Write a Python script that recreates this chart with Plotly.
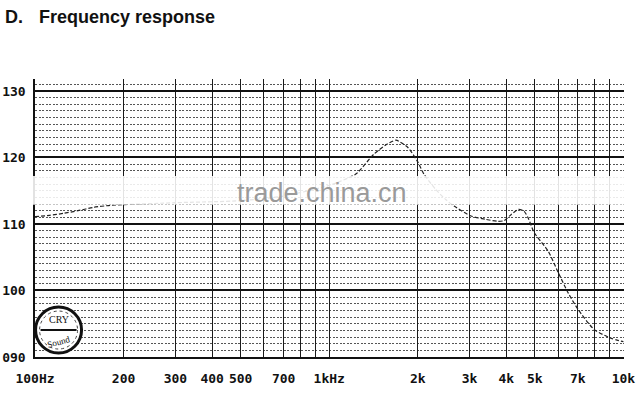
import plotly.graph_objects as go

# ---- data ----
freq_hz = [100, 112, 125, 140, 158, 180, 200, 300, 500, 700, 1000, 1231, 1418, 1560,
           1686, 1851, 2002, 2099, 2300, 2500, 2657, 3034, 3400, 3750, 3932, 4150,
           4406, 4600, 4746, 4975, 5553, 6004, 6496, 7025, 7965, 9100, 10000]
spl_db = [111.1, 111.3, 111.6, 112.0, 112.5, 112.8, 112.9, 113.2, 113.5, 114.2, 115.8,
          117.5, 120.5, 121.9, 122.6, 121.5, 119.3, 117.5, 115.2, 113.6, 112.7, 111.2,
          110.7, 110.4, 110.5, 111.4, 112.2, 111.9, 110.9, 108.7, 105.9, 102.7, 99.6,
          97.1, 94.1, 92.8, 92.3]

x_tickvals = [100, 200, 300, 400, 500, 600, 700, 800, 900, 1000,
              2000, 3000, 4000, 5000, 6000, 7000, 8000, 9000, 10000]
x_ticktext = ["100Hz", "200", "300", "400", "500", "", "700", "", "", "1kHz",
              "2k", "3k", "4k", "5k", "", "7k", "", "", "10k"]
y_tickvals = [90, 100, 110, 120, 130]
y_ticktext = ["090", "100", "110", "120", "130"]

tick_font = dict(family="DejaVu Sans Mono", size=13, color="#111", weight="bold")

fig = go.Figure()
fig.add_trace(go.Scatter(
    x=freq_hz, y=spl_db, mode="lines",
    line=dict(color="#222", width=1.2, dash="4px,2px", shape="spline", smoothing=0.6),
    hoverinfo="skip", showlegend=False,
))

fig.update_layout(
    width=644, height=402,
    margin=dict(l=35, r=20, t=79, b=45, autoexpand=False),
    paper_bgcolor="white", plot_bgcolor="white",
    showlegend=False,
    xaxis=dict(
        type="log", range=[2, 4.002], automargin=False,
        tickmode="array", tickvals=x_tickvals, ticktext=x_ticktext,
        showgrid=True, gridcolor="#1a1a1a", gridwidth=1,
        showline=True, linecolor="#111", linewidth=1.5,
        ticks="", tickfont=tick_font, ticklabelstandoff=9,
        zeroline=False,
    ),
    yaxis=dict(
        range=[90, 131.8], automargin=False,
        tickmode="array", tickvals=y_tickvals, ticktext=y_ticktext,
        showgrid=True, gridcolor="#111", gridwidth=1.6,
        showline=True, linecolor="#111", linewidth=1.5,
        ticks="", tickfont=tick_font, ticklabelstandoff=5,
        zeroline=False,
        minor=dict(tickmode="linear", tick0=90, dtick=1, showgrid=True,
                   gridcolor="#555", gridwidth=1, griddash="2px,1.5px", ticks=""),
    ),
)

# title
fig.add_annotation(text="D.", xref="paper", yref="paper", x=-0.054, y=1.223,
                   xanchor="left", yanchor="middle", showarrow=False,
                   font=dict(family="Liberation Sans", size=18, color="#111", weight="bold"))
fig.add_annotation(text="Frequency response", xref="paper", yref="paper", x=0.004, y=1.223,
                   xanchor="left", yanchor="middle", showarrow=False,
                   font=dict(family="Liberation Sans", size=18, color="#111", weight="bold"))

# washed-out watermark band
fig.add_shape(type="rect", xref="paper", yref="y", x0=-0.01, x1=1.01, y0=112.9, y1=117.2,
              fillcolor="white", opacity=0.88, line=dict(width=0), layer="above")
fig.add_annotation(text="trade.china.cn", xref="paper", yref="paper", x=0.487, y=0.59,
                   xanchor="center", yanchor="middle", showarrow=False,
                   font=dict(family="Liberation Sans", size=27, color="#9a9a9a"))

# CRY Sound logo
fig.add_shape(type="circle", xref="paper", yref="paper", xsizemode="pixel", ysizemode="pixel",
              xanchor=0.04, yanchor=0.097, x0=-23, x1=23, y0=-23, y1=23,
              line=dict(color="#111", width=3), fillcolor="white", layer="above")
fig.add_shape(type="circle", xref="paper", yref="paper", xsizemode="pixel", ysizemode="pixel",
              xanchor=0.04, yanchor=0.097, x0=-19, x1=19, y0=-19, y1=19,
              line=dict(color="#444", width=1, dash="dot"), layer="above")
fig.add_shape(type="line", xref="paper", yref="paper", xsizemode="pixel", ysizemode="pixel",
              xanchor=0.04, yanchor=0.097, x0=-18, x1=18, y0=0, y1=0,
              line=dict(color="#111", width=2), layer="above")
fig.add_annotation(text="CRY", xref="paper", yref="paper", x=0.04, y=0.135,
                   xanchor="center", yanchor="middle", showarrow=False,
                   font=dict(family="Liberation Serif", size=10, color="#111"))
fig.add_annotation(text="Sound", xref="paper", yref="paper", x=0.04, y=0.055,
                   xanchor="center", yanchor="middle", showarrow=False, textangle=-15,
                   font=dict(family="Liberation Serif", size=9, color="#111"))

fig.write_html("out.html", config={"displayModeBar": False},
               post_script="document.body.style.margin='0';")
